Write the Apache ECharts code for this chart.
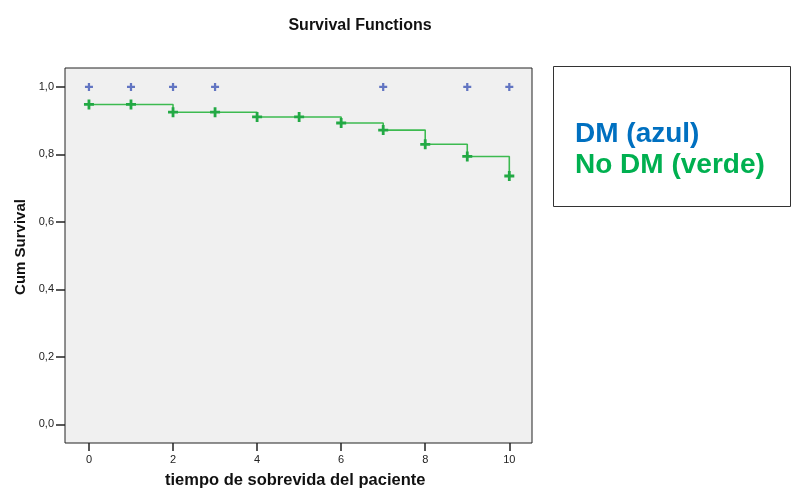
<!DOCTYPE html>
<html>
<head>
<meta charset="utf-8">
<script src="https://cdn.jsdelivr.net/npm/echarts@6/dist/echarts.min.js"></script>
<style>
  html, body { margin: 0; padding: 0; background: #ffffff; }
  #chart { width: 792px; height: 489px; }
</style>
</head>
<body>
<div id="chart"></div>
<script>
// tiempo (años) y supervivencia acumulada
const noDmTime = [0, 1, 2, 3, 4, 5, 6, 7, 8, 9, 10]
const noDmSurv = [0.948, 0.948, 0.925, 0.925, 0.911, 0.911, 0.893, 0.872, 0.830, 0.794, 0.736]
// DM: solo censurados en 1,0
const dmTime = [0, 1, 2, 3, 7, 9, 10]
const dmSurv = [1, 1, 1, 1, 1, 1, 1]
const xTicks = [0, 2, 4, 6, 8, 10]
const yTicks = [0, 0.2, 0.4, 0.6, 0.8, 1.0]

const FONT = 'Liberation Sans, Arial, sans-serif'
const PLUS = 'path://M3.6,0H6.4V3.6H10V6.4H6.4V10H3.6V6.4H0V3.6H3.6Z'

let myChart = echarts.init(document.getElementById('chart'))
let option = {
  animation: false,
  textStyle: { fontFamily: FONT },
  title: {
    text: 'Survival Functions',
    left: 355,
    top: 13,
    textAlign: 'center',
    textStyle: { fontFamily: FONT, fontSize: 16, fontWeight: 'bold', color: '#111' }
  },
  grid: {
    left: 65,
    right: 260,
    top: 68,
    bottom: 46,
    show: true,
    backgroundColor: '#f0f0f0',
    borderColor: '#222',
    borderWidth: 1
  },
  xAxis: {
    type: 'value',
    min: -0.57,
    max: 10.54,
    axisLine: { show: false, onZero: false },
    splitLine: { show: false },
    axisTick: {
      show: true,
      inside: false,
      length: 8,
      customValues: xTicks,
      lineStyle: { color: '#222', width: 1.5 }
    },
    axisLabel: {
      customValues: xTicks,
      margin: 11,
      fontSize: 11,
      color: '#222',
      fontFamily: FONT
    }
  },
  yAxis: {
    type: 'value',
    min: -0.055,
    max: 1.056,
    axisLine: { show: false, onZero: false },
    splitLine: { show: false },
    axisTick: {
      show: true,
      inside: false,
      length: 9,
      customValues: yTicks,
      lineStyle: { color: '#222', width: 1.5 }
    },
    axisLabel: {
      customValues: yTicks,
      margin: 11,
      fontSize: 11,
      color: '#222',
      fontFamily: FONT,
      formatter: function (v) { return v.toFixed(1).replace('.', ',') }
    }
  },
  series: [
    {
      name: 'No DM',
      type: 'line',
      step: 'end',
      data: noDmTime.map((t, i) => [t, noDmSurv[i]]),
      symbol: PLUS,
      symbolSize: 10,
      showAllSymbol: true,
      lineStyle: { color: '#3dba50', width: 1.6 },
      itemStyle: { color: '#22a944' },
      z: 3
    },
    {
      name: 'DM',
      type: 'scatter',
      data: dmTime.map((t, i) => [t, dmSurv[i]]),
      symbol: PLUS,
      symbolSize: 8,
      itemStyle: { color: '#3f56b6' },
      z: 4
    }
  ],
  graphic: [
    {
      type: 'text',
      left: 165,
      top: 472,
      style: {
        text: 'tiempo de sobrevida del paciente',
        font: 'bold 16.5px ' + FONT,
        fill: '#111'
      }
    },
    {
      type: 'text',
      x: 21,
      y: 247,
      rotation: Math.PI / 2,
      style: {
        text: 'Cum Survival',
        font: 'bold 15px ' + FONT,
        fill: '#111',
        align: 'center',
        verticalAlign: 'middle'
      }
    },
    {
      type: 'rect',
      shape: { x: 553.5, y: 66.5, width: 237, height: 140 },
      style: { fill: '#ffffff', stroke: '#333', lineWidth: 1 }
    },
    {
      type: 'text',
      x: 575,
      y: 134,
      style: {
        text: 'DM (azul)',
        font: 'bold 28px ' + FONT,
        fill: '#0070c0',
        verticalAlign: 'middle'
      }
    },
    {
      type: 'text',
      x: 575,
      y: 165,
      style: {
        text: 'No DM (verde)',
        font: 'bold 28px ' + FONT,
        fill: '#00b050',
        verticalAlign: 'middle'
      }
    }
  ]
}
myChart.setOption(option, true)
</script>
</body>
</html>
